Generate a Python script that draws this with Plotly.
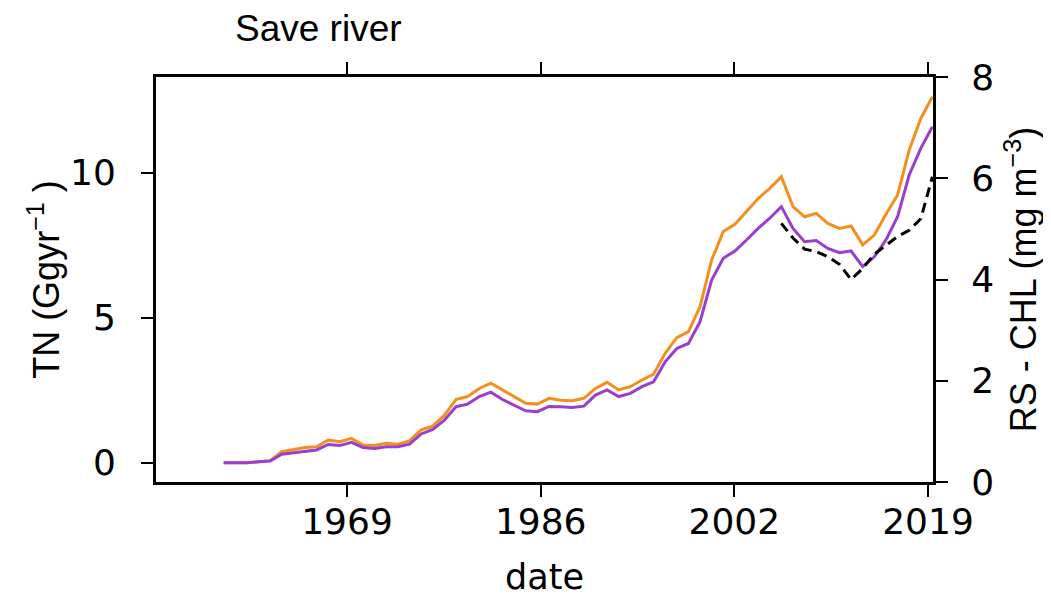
import plotly.graph_objects as go

# ---- data ----
years = list(range(1958, 2020))

tn_orange = [0.00, 0.00, 0.00, 0.03, 0.07, 0.38, 0.46, 0.52, 0.55, 0.78,
             0.72, 0.84, 0.61, 0.59, 0.67, 0.64, 0.75, 1.13, 1.26, 1.64,
             2.18, 2.28, 2.56, 2.74, 2.51, 2.28, 2.05, 2.02, 2.22, 2.15,
             2.14, 2.22, 2.56, 2.77, 2.51, 2.62, 2.85, 3.05, 3.77, 4.31,
             4.52, 5.38, 6.99, 7.97, 8.22, 8.66, 9.11, 9.46, 9.86, 8.83,
             8.48, 8.60, 8.25, 8.08, 8.16, 7.51, 7.85, 8.57, 9.23, 10.78,
             11.87, 12.62]

tn_purple = [0.00, 0.00, 0.00, 0.03, 0.06, 0.29, 0.34, 0.38, 0.44, 0.63,
             0.59, 0.70, 0.52, 0.49, 0.55, 0.55, 0.64, 0.99, 1.15, 1.47,
             1.93, 2.02, 2.28, 2.43, 2.18, 1.98, 1.79, 1.76, 1.94, 1.93,
             1.90, 1.95, 2.33, 2.51, 2.28, 2.39, 2.62, 2.79, 3.48, 3.94,
             4.11, 4.86, 6.30, 7.05, 7.30, 7.68, 8.08, 8.43, 8.83, 8.08,
             7.62, 7.66, 7.39, 7.24, 7.30, 6.76, 7.10, 7.68, 8.48, 9.92,
             10.84, 11.59]

chl_years = list(range(2006, 2020))
chl_rs = [5.11, 4.82, 4.60, 4.55, 4.45, 4.30, 4.00, 4.22, 4.50, 4.68,
          4.85, 4.97, 5.20, 6.03]

tick_positions = [1968.62, 1985.29, 2001.95, 2018.62]
tick_labels = ["1969", "1986", "2002", "2019"]
left_ticks = [0, 5, 10]
right_ticks = [0, 2, 4, 6, 8]

# the page body has an 8px margin, so the figure is drawn at (8, 8)
W, H = 1043, 590
TICKFONT = dict(family="DejaVu Sans", size=36, color="black")
LABELFONT = dict(family="Liberation Sans", size=36, color="black")

fig = go.Figure()
fig.add_trace(go.Scatter(x=years, y=tn_orange, mode="lines",
                         line=dict(color="#F3901D", width=3), showlegend=False))
fig.add_trace(go.Scatter(x=years, y=tn_purple, mode="lines",
                         line=dict(color="#9A3ED0", width=3), showlegend=False))
fig.add_trace(go.Scatter(x=chl_years, y=chl_rs, mode="lines", yaxis="y2",
                         line=dict(color="black", width=3, dash="10px,6px"),
                         showlegend=False))

fig.update_layout(
    width=W, height=H,
    margin=dict(l=148, r=118, t=69, b=116, pad=0),
    paper_bgcolor="white", plot_bgcolor="white",
    title=dict(text="Save river", font=dict(family="Liberation Sans", size=37, color="black"),
               x=227 / W, xanchor="left", xref="container",
               y=1 - 20 / H, yanchor="middle", yref="container"),
    xaxis=dict(range=[1952.18, 2019.05], tickvals=tick_positions, ticktext=tick_labels,
               showgrid=False, zeroline=False, showline=True, linecolor="black", linewidth=3,
               mirror="ticks", ticks="outside", ticklen=12, tickwidth=2, tickcolor="black",
               tickfont=TICKFONT, ticklabelstandoff=-6,
               title=dict(text="date", font=dict(family="DejaVu Sans", size=35, color="black"),
                          standoff=24),
               automargin=False),
    yaxis=dict(range=[-0.666, 13.30], tickvals=left_ticks,
               showgrid=False, zeroline=False, showline=True, linecolor="black", linewidth=3,
               ticks="outside", ticklen=12, tickwidth=2, tickcolor="black",
               tickfont=TICKFONT, ticklabelstandoff=18,
               title=dict(text="TN (Ggyr<sup>−1</sup> )", font=LABELFONT, standoff=0),
               automargin=False),
    yaxis2=dict(range=[0, 8], tickvals=right_ticks, overlaying="y", side="right",
                showgrid=False, zeroline=False, showline=True, linecolor="black", linewidth=3,
                ticks="outside", ticklen=12, tickwidth=2, tickcolor="black",
                tickfont=TICKFONT, ticklabelstandoff=16,
                title=dict(text="RS - CHL (mg m<sup>−3</sup>)", font=LABELFONT, standoff=18),
                automargin=False),
)

fig.write_html("out.html")
